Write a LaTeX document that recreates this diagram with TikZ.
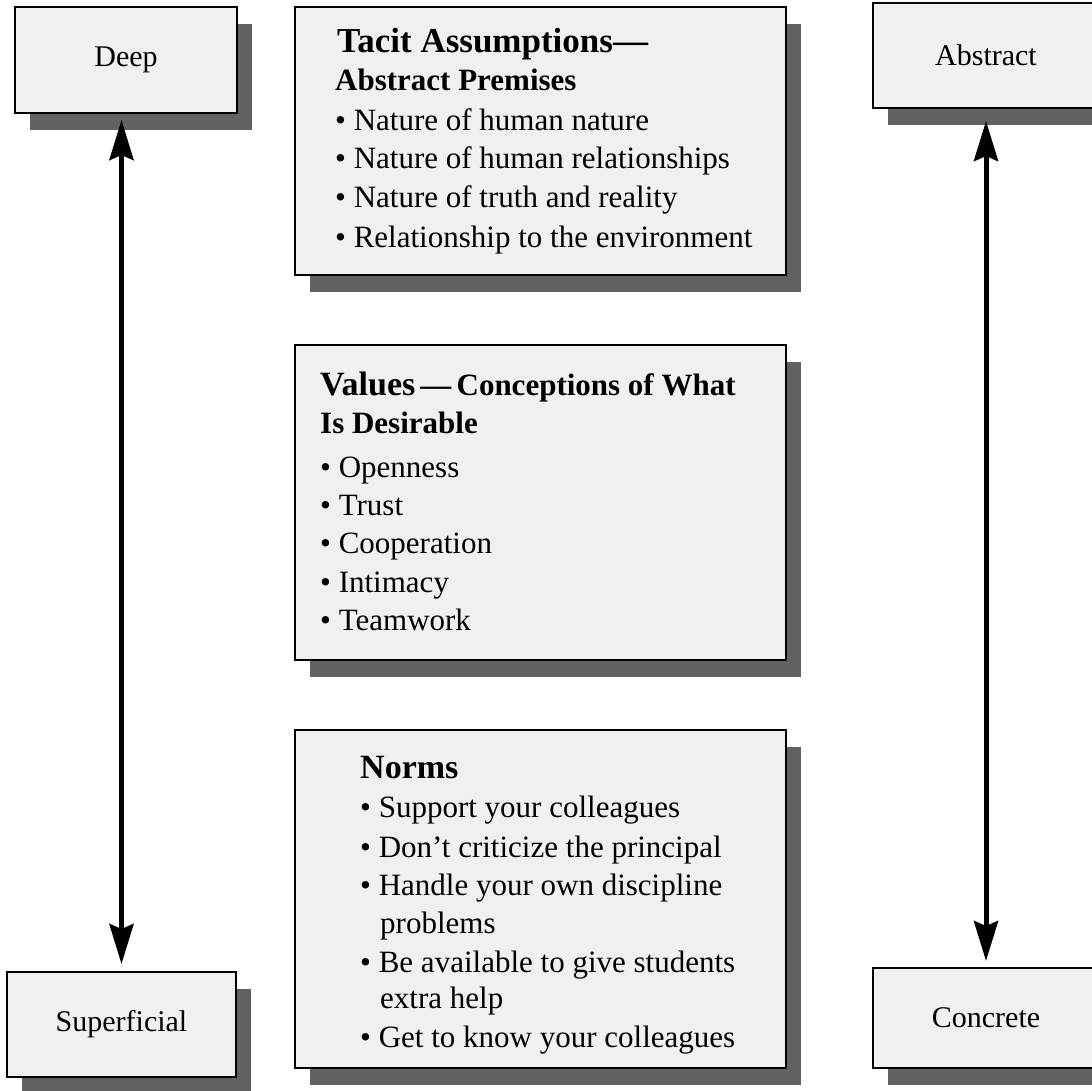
\documentclass[tikz,border=0pt]{standalone}
\usepackage{fontspec}
\setmainfont{Liberation Serif}
\usetikzlibrary{arrows.meta,shadows}
\definecolor{boxfill}{gray}{0.94}
\definecolor{shadowc}{gray}{0.38}
\begin{document}
\begin{tikzpicture}[x=1pt,y=-1pt,
  card/.style={draw=black, line width=2pt, fill=boxfill, inner sep=0pt,
    general shadow={fill=shadowc, draw=none, shadow xshift=15pt, shadow yshift=-17pt}},
  lbl/.style={font=\fontsize{30}{36}\selectfont},
  ln/.style={anchor=base west, inner sep=0pt, font=\fontsize{31}{38}\selectfont},
  hd/.style={anchor=base west, inner sep=0pt, font=\bfseries\fontsize{31}{38}\selectfont},
  dbl/.style={line width=5pt, {Stealth[length=40pt,width=24pt,inset=5pt]}-{Stealth[length=40pt,width=24pt,inset=5pt]}}
]
\useasboundingbox (0,0) rectangle (1092,1090);
\clip (0,0) rectangle (1092,1090);
\fill[white] (0,0) rectangle (1092,1090);

% side boxes
\node[card, lbl, minimum width=222, minimum height=106] (deep) at (126,60) {Deep};
\node[card, lbl, minimum width=229, minimum height=105] (sup) at (121.5,1024.5) {Superficial};
\node[card, lbl, minimum width=226, minimum height=105] (abs) at (986,55.5) {Abstract};
\node[card, lbl, minimum width=226, minimum height=100] (con) at (986,1018) {Concrete};

% middle boxes
\node[card, minimum width=491, minimum height=268] (tacit) at (540.5,141) {};
\node[card, minimum width=491, minimum height=315] (values) at (540.5,502.5) {};
\node[card, minimum width=491, minimum height=338] (norms) at (540.5,899) {};

% Tacit text
\node[hd, font=\bfseries\fontsize{35}{40}\selectfont] (t1) at (337,52) {Tacit Assumptions—};
\node[hd] (t2) at (335,90) {Abstract Premises};
\node[ln] (t3) at (335,130) {• Nature of human nature};
\node[ln] (t4) at (335,168) {• Nature of human relationships};
\node[ln] (t5) at (335,207) {• Nature of truth and reality};
\node[ln] (t6) at (335,247) {• Relationship to the environment};

% Values text
\node[hd] (v1) at (320,395) {{\fontsize{34}{40}\selectfont Values}\,—\,Conceptions of What};
\node[hd] (v2) at (320,433) {Is Desirable};
\node[ln] (v3) at (320,477) {• Openness};
\node[ln] (v4) at (320,515) {• Trust};
\node[ln] (v5) at (320,553) {• Cooperation};
\node[ln] (v6) at (320,592) {• Intimacy};
\node[ln] (v7) at (320,630) {• Teamwork};

% Norms text
\node[hd, font=\bfseries\fontsize{34}{40}\selectfont] (n1) at (360,778) {Norms};
\node[ln] (n2) at (360,817) {• Support your colleagues};
\node[ln] (n3) at (360,857) {• Don’t criticize the principal};
\node[ln] (n4) at (360,895) {• Handle your own discipline};
\node[ln] (n5) at (380,933) {problems};
\node[ln] (n6) at (360,972) {• Be available to give students};
\node[ln] (n7) at (380,1008) {extra help};
\node[ln] (n8) at (360,1047) {• Get to know your colleagues};

% arrows
\coordinate (dtop) at ([yshift=-6pt]deep.south);
\coordinate (sbot) at ([yshift=7pt]sup.north);
\draw[dbl] (dtop -| sbot) -- (sbot);
\coordinate (atop) at ([yshift=-12pt]abs.south);
\coordinate (cbot) at ([yshift=6pt]con.north);
\draw[dbl] (atop) -- (cbot);
\end{tikzpicture}
\end{document}
